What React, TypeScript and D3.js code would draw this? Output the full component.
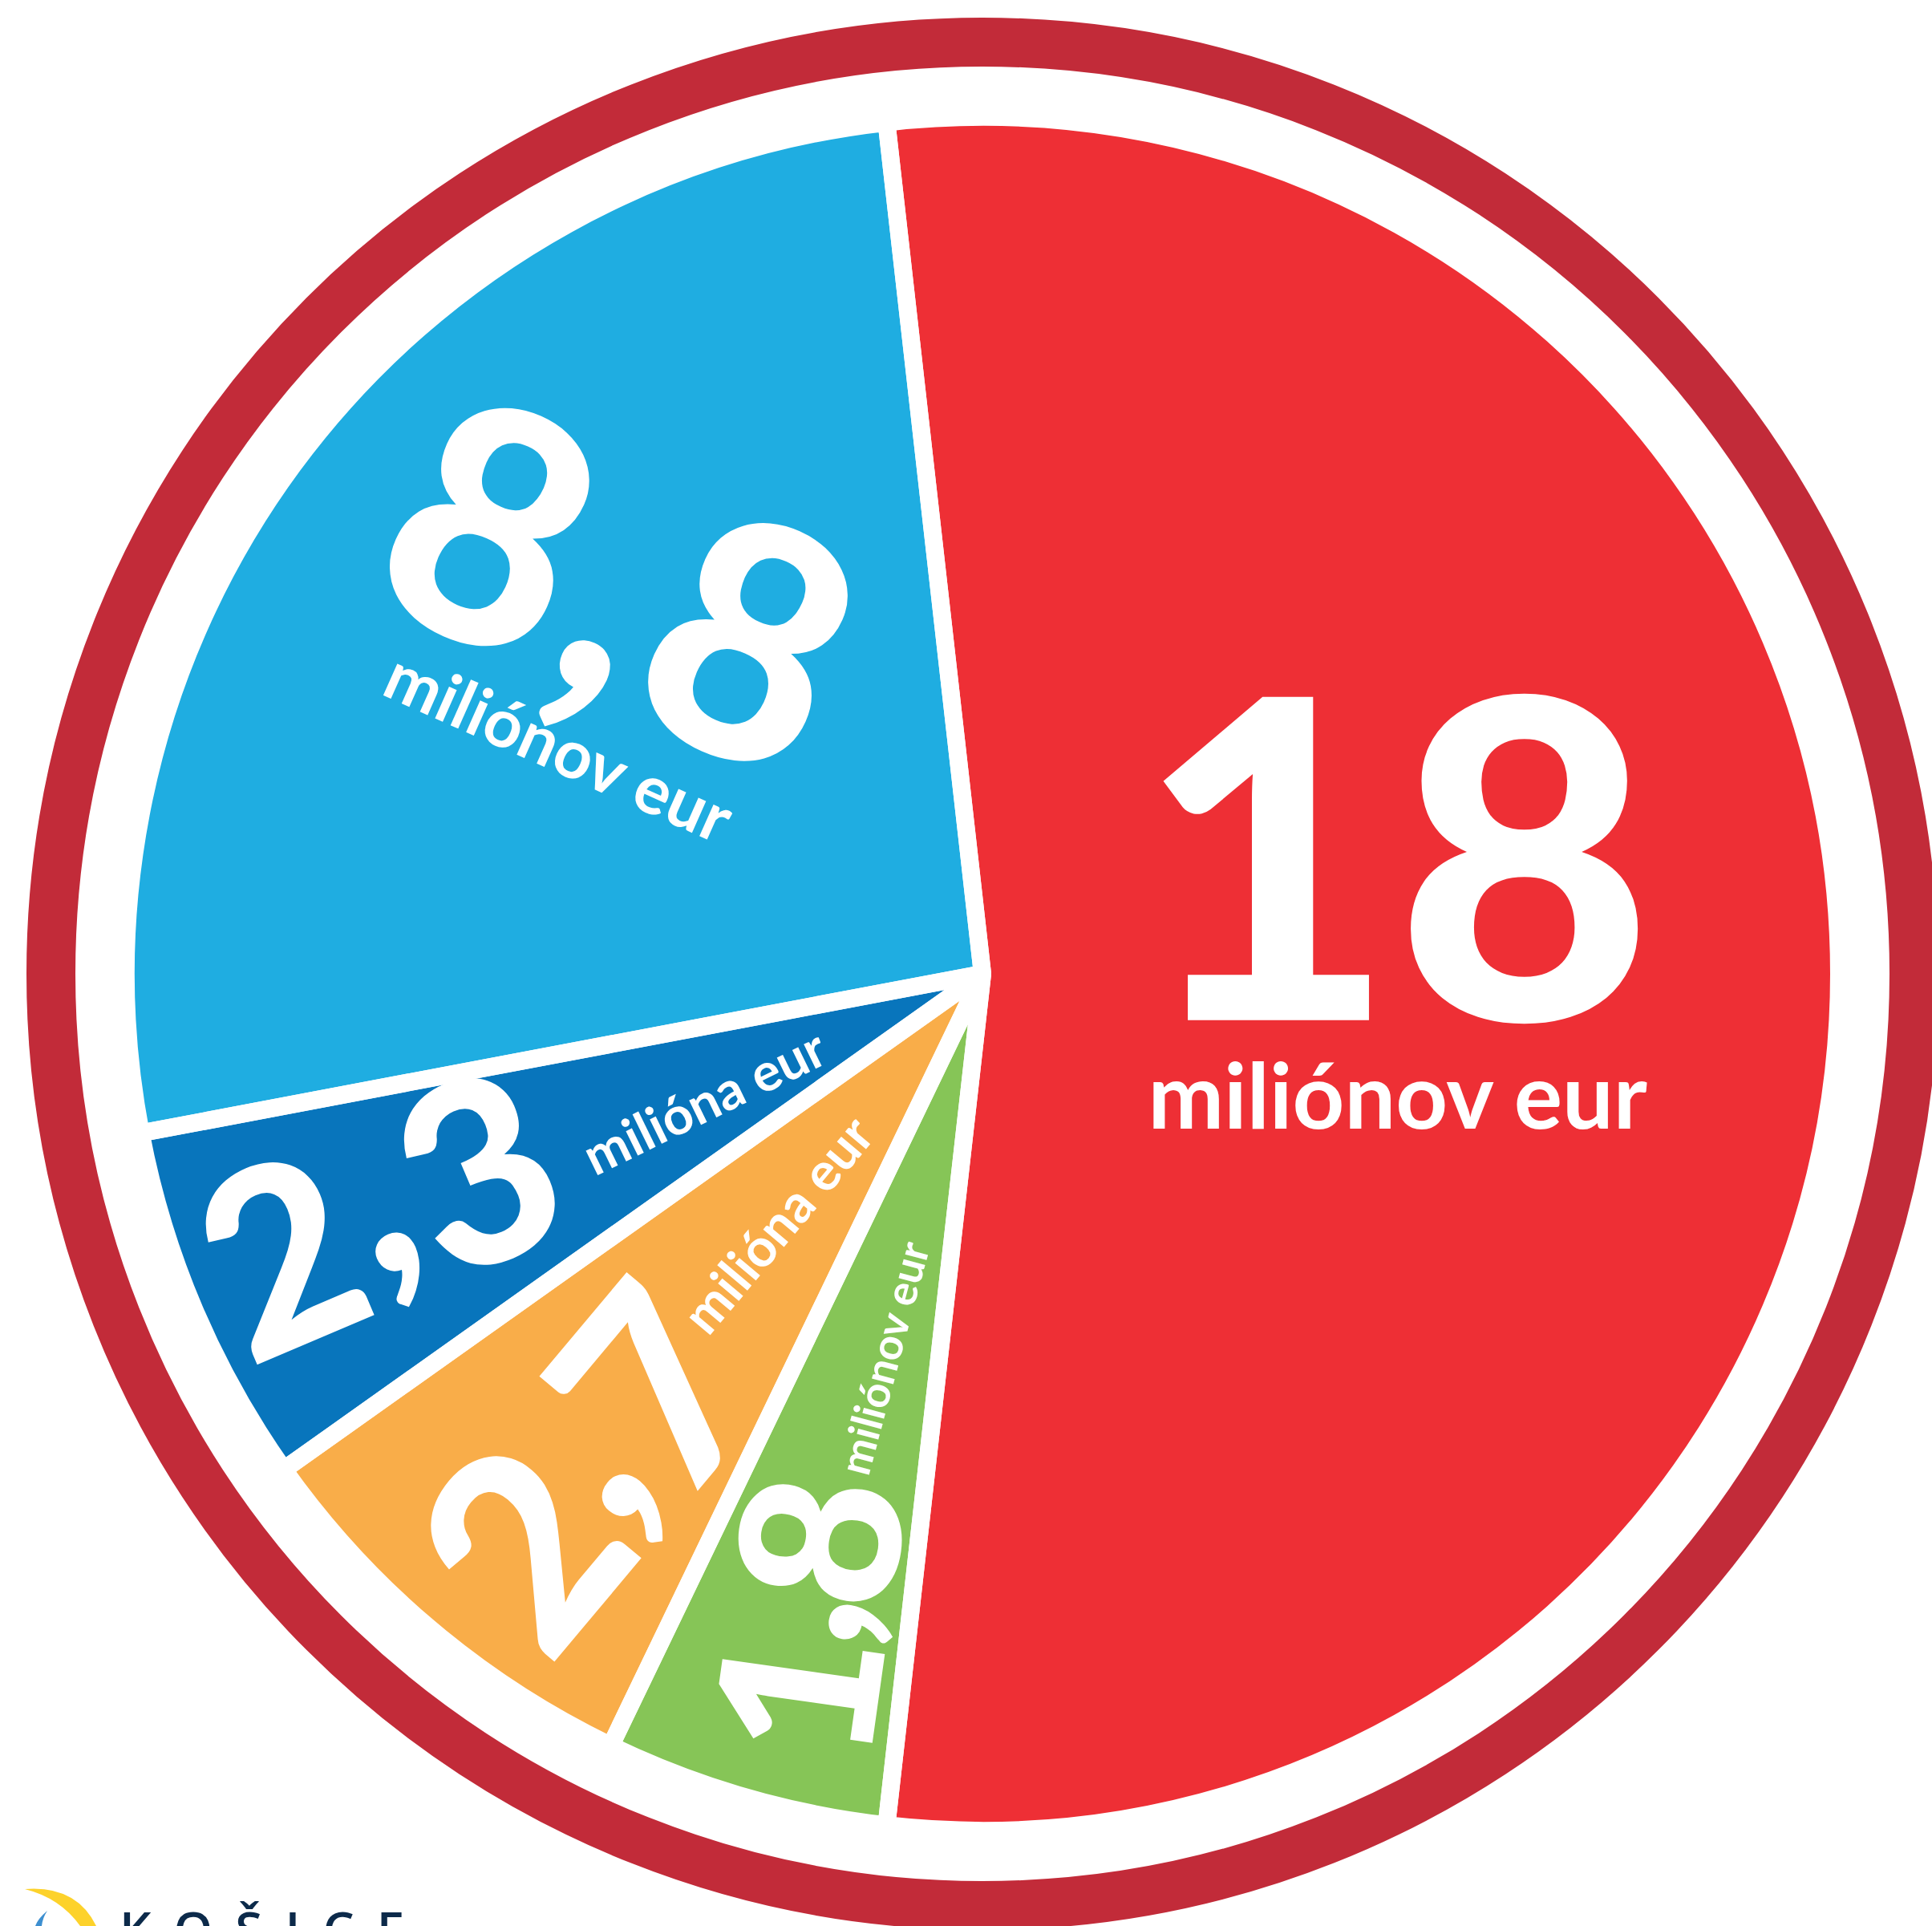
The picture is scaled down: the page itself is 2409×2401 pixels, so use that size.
import React, { useRef, useEffect } from 'react';
import * as d3 from 'd3';

// slices, clockwise starting with the big red one
const slices = ['s1', 's2', 's3', 's4', 's5'];
const values = [18, 1.8, 2.7, 2.3, 8.8];
const valueLabels = ['18', '1,8', '2,7', '2,3', '8,8'];
const unitLabels = ['miliónov eur', 'miliónov eur', 'milióna eur', 'milióna eur', 'miliónov eur'];

const palette = ['#ee2f35', '#86c557', '#f9ad49', '#0875bc', '#1fade1'];

// label placement: radius fraction, angle shift (deg) from slice middle, text rotation,
// number font size, letter spacing and comma lift, unit font size, unit offset and extra tilt
const labelLayout = [
  { r: 0.49, shift: 6.4, rotate: 0, size: 555, ls: 0, commaDy: 0, subSize: 113, subX: 3, subY: 135, subRotate: 0 },
  { r: 0.787, shift: -7.9, rotate: -82, size: 275, ls: -16, commaDy: -0.12, subSize: 54, subX: 338, subY: -33, subRotate: 7 },
  { r: 0.759, shift: -10.4, rotate: -50, size: 335, ls: -8, commaDy: -0.125, subSize: 66, subX: 386, subY: -113, subRotate: 0 },
  { r: 0.768, shift: -6.7, rotate: -23, size: 315, ls: 5, commaDy: -0.12, subSize: 66, subX: 426, subY: -60, subRotate: -3 },
  { r: 0.581, shift: -1.7, rotate: 24, size: 405, ls: 11, commaDy: -0.01, subSize: 84, subX: 6, subY: 101, subRotate: 0 },
];

const PieChart: React.FC = () => {
  const svgRef = useRef<SVGSVGElement>(null);

  useEffect(() => {
    if (!svgRef.current) return;

    const svg = d3.select(svgRef.current);
    svg.selectAll('*').remove();
    const width = 2409;
    const height = 2401;
    const cx = 1225;
    const cy = 1214;
    const radius = 1057;
    const gap = 22;

    svg.attr('width', width).attr('height', height);

    svg.append('rect').attr('width', width).attr('height', height).attr('fill', '#ffffff');

    const g = svg.append('g').attr('transform', `translate(${cx},${cy})`);

    // outer ring
    g.append('circle')
      .attr('r', 1161.5)
      .attr('fill', 'none')
      .attr('stroke', '#c22b39')
      .attr('stroke-width', 61);

    const total = d3.sum(values);
    const start = Math.PI / 2 - (values[0] / total) * Math.PI;

    const pie = d3.pie<number>()
      .value(d => d)
      .sort(null)
      .startAngle(start)
      .endAngle(start + 2 * Math.PI);

    const arc = d3.arc<d3.PieArcDatum<number>>()
      .innerRadius(0)
      .outerRadius(radius + gap / 2);

    const color = d3.scaleOrdinal<string>().domain(slices).range(palette);
    const arcs = pie(values);

    g.selectAll('.slice')
      .data(arcs)
      .enter().append('path')
      .attr('class', 'slice')
      .attr('d', arc)
      .attr('fill', (d, i) => color(slices[i]));

    // white separators between the slices
    g.selectAll('.gap')
      .data(arcs)
      .enter().append('path')
      .attr('class', 'gap')
      .attr('d', arc)
      .attr('fill', 'none')
      .attr('stroke', '#ffffff')
      .attr('stroke-width', gap)
      .attr('stroke-linejoin', 'bevel');

    const labelArc = d3.arc<any>();

    const labels = g.selectAll('.label')
      .data(arcs)
      .enter().append('g')
      .attr('class', 'label')
      .attr('transform', (d, i) => {
        const l = labelLayout[i];
        const a = (d.startAngle + d.endAngle) / 2 + (l.shift * Math.PI) / 180;
        const [x, y] = labelArc.centroid({
          innerRadius: radius * l.r,
          outerRadius: radius * l.r,
          startAngle: a,
          endAngle: a,
        });
        return `translate(${x},${y}) rotate(${l.rotate})`;
      });

    labels.append('text')
      .attr('text-anchor', 'middle')
      .attr('font-family', 'Lato, sans-serif')
      .attr('font-weight', 900)
      .attr('font-size', (d, i) => labelLayout[i].size)
      .attr('letter-spacing', (d, i) => labelLayout[i].ls)
      .attr('fill', '#ffffff')
      .each(function (d, i) {
        const l = labelLayout[i];
        const [whole, frac] = valueLabels[i].split(',');
        const t = d3.select(this);
        t.append('tspan').text(whole);
        if (frac !== undefined) {
          t.append('tspan').attr('dy', `${l.commaDy}em`).text(',');
          t.append('tspan').attr('dy', `${-l.commaDy}em`).text(frac);
        }
      });

    labels.append('text')
      .attr('text-anchor', 'middle')
      .attr('transform', (d, i) => {
        const l = labelLayout[i];
        return `translate(${l.subX},${l.subY}) rotate(${l.subRotate})`;
      })
      .attr('font-family', 'Lato, sans-serif')
      .attr('font-weight', 700)
      .attr('font-size', (d, i) => labelLayout[i].subSize)
      .attr('fill', '#ffffff')
      .text((d, i) => unitLabels[i]);

    // city logo, cut by the bottom edge
    const logo = svg.append('g');
    logo.append('path')
      .attr('d', 'M31,2355 Q95,2350 120,2401 L100,2401 Q75,2366 31,2355 Z')
      .attr('fill', '#fdd22b');
    logo.append('path')
      .attr('d', 'M59,2382 Q47,2392 44,2401 L52,2401 Q53,2391 59,2382 Z')
      .attr('fill', '#3d8fd0');
    logo.append('text')
      .attr('x', 149)
      .attr('y', 2428)
      .attr('font-family', 'Open Sans, sans-serif')
      .attr('font-weight', 600)
      .attr('font-size', 62)
      .attr('letter-spacing', 28)
      .attr('fill', '#0c2a4a')
      .text('KOŠICE');
  }, []);

  return <svg ref={svgRef} style={{ position: 'absolute', left: 0, top: 0, display: 'block' }}></svg>;
};

export default function App() {
  return <PieChart />;
}
